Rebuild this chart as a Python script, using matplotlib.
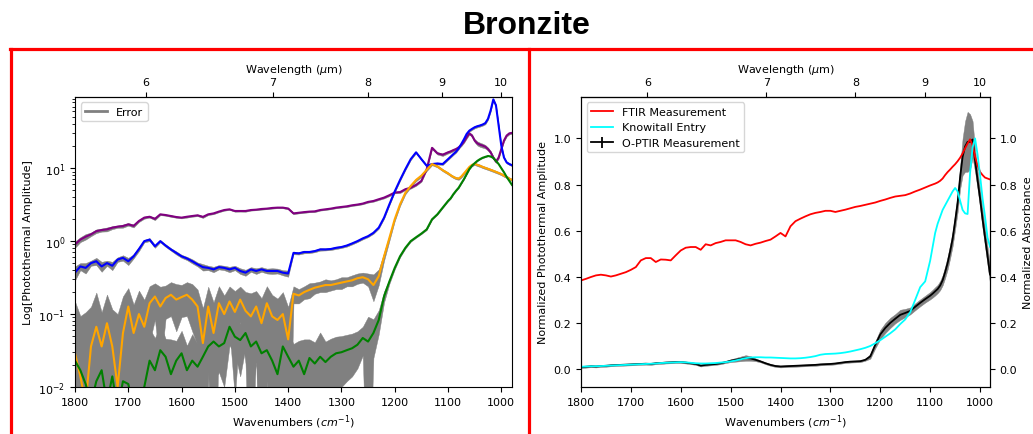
import numpy as np
import matplotlib
matplotlib.use("Agg")
import matplotlib.pyplot as plt
from matplotlib.lines import Line2D

# ---------------- data ----------------
# wavenumber grid (cm^-1): 1800..1100 step 10, then 1095..980 step 5
wn = np.concatenate([np.arange(1800, 1099, -10), np.arange(1095, 979, -5)]).astype(float)

purple = [0.90, 1.05, 1.15, 1.24, 1.37, 1.42, 1.45, 1.53, 1.58, 1.61,
          1.70, 1.62, 1.89, 2.10, 2.16, 2.02, 2.33, 2.28, 2.21, 2.14,
          2.10, 2.16, 2.21, 2.26, 2.15, 2.33, 2.40, 2.54, 2.67, 2.73,
          2.59, 2.59, 2.59, 2.67, 2.70, 2.76, 2.79, 2.85, 2.88, 2.88,
          2.80, 2.40, 2.45, 2.50, 2.54, 2.56, 2.67, 2.73, 2.79, 2.88,
          2.94, 3.00, 3.10, 3.17, 3.27, 3.45, 3.55, 3.75, 3.95, 4.26,
          4.64, 4.70, 5.15, 5.40, 5.90, 6.70, 9.70, 19.0, 16.0, 15.3,
          16.5,
          17.0, 17.7, 18.3, 19.3, 20.8, 23.1, 26.5, 30.0, 28.0, 23.9,
          21.9, 21.0, 20.4, 19.7, 18.3, 16.5, 14.0, 12.3, 14.0, 18.3,
          23.9, 28.0, 30.0, 30.5]
purple_err = [0.09, 0.08, 0.10, 0.07, 0.08, 0.07, 0.09, 0.07, 0.06, 0.08,
              0.07, 0.08, 0.06, 0.07, 0.06, 0.08, 0.06, 0.05, 0.06, 0.05,
              0.05, 0.06, 0.05, 0.06, 0.07, 0.05, 0.06, 0.05, 0.06, 0.05,
              0.06, 0.05, 0.06, 0.05, 0.05, 0.06, 0.05, 0.06, 0.05, 0.06,
              0.07, 0.06, 0.05, 0.06, 0.05, 0.06, 0.05, 0.06, 0.05, 0.06,
              0.06, 0.07, 0.06, 0.07, 0.07, 0.08, 0.08, 0.09, 0.10, 0.11,
              0.12, 0.13, 0.14, 0.15, 0.17, 0.20, 0.30, 0.70, 0.60, 0.60,
              0.60,
              0.62, 0.65, 0.65, 0.70, 0.75, 0.85, 1.00, 1.10, 1.10, 1.20,
              1.40, 1.40, 1.30, 1.10, 0.90, 0.75, 0.60, 0.50, 0.50, 0.60,
              0.75, 0.90, 0.95, 0.95]

blue = [0.37, 0.45, 0.43, 0.50, 0.53, 0.45, 0.50, 0.46, 0.56, 0.59,
        0.53, 0.62, 0.78, 1.00, 1.05, 0.85, 1.00, 0.87, 0.77, 0.69,
        0.62, 0.58, 0.53, 0.48, 0.44, 0.43, 0.41, 0.44, 0.43, 0.41,
        0.43, 0.39, 0.37, 0.41, 0.39, 0.41, 0.39, 0.39, 0.39, 0.37,
        0.36, 0.69, 0.68, 0.71, 0.71, 0.73, 0.77, 0.77, 0.78, 0.81,
        0.83, 0.87, 0.93, 1.00, 1.09, 1.17, 1.30, 1.53, 2.10, 3.20,
        4.80, 6.90, 9.70, 13.3, 16.5, 13.3, 10.8, 11.4, 11.6, 11.4,
        13.3,
        14.4, 15.6, 16.8, 18.7, 21.5, 25.0, 29.5, 32.7, 34.6, 36.4,
        37.6, 38.5, 39.7, 41.5, 47.5, 61.8, 87.7, 72.5, 38.5, 20.4,
        14.0, 12.0, 11.4, 11.0]
blue_err = [0.08, 0.05, 0.07, 0.04, 0.06, 0.07, 0.04, 0.06, 0.04, 0.05,
            0.06, 0.04, 0.05, 0.04, 0.05, 0.04, 0.035, 0.035, 0.03, 0.035,
            0.03, 0.03, 0.035, 0.03, 0.045, 0.03, 0.035, 0.03, 0.03, 0.035,
            0.03, 0.035, 0.035, 0.03, 0.035, 0.03, 0.03, 0.035, 0.03, 0.03,
            0.035, 0.03, 0.025, 0.03, 0.025, 0.025, 0.03, 0.025, 0.025, 0.03,
            0.025, 0.03, 0.03, 0.03, 0.035, 0.035, 0.04, 0.05, 0.07, 0.10,
            0.15, 0.20, 0.28, 0.38, 0.45, 0.38, 0.30, 0.35, 0.35, 0.35,
            0.38,
            0.42, 0.45, 0.50, 0.55, 0.65, 0.80, 0.95, 1.10, 1.20, 1.30,
            1.35, 1.35, 1.40, 1.50, 1.60, 2.00, 2.50, 2.20, 1.30, 0.65,
            0.45, 0.38, 0.35, 0.35]

orange = [0.029, 0.014, 0.006, 0.036, 0.067, 0.036, 0.075, 0.036, 0.010, 0.055,
          0.127, 0.055, 0.100, 0.067, 0.141, 0.174, 0.127, 0.166, 0.184, 0.158,
          0.171, 0.184, 0.158, 0.127, 0.040, 0.127, 0.055, 0.141, 0.100, 0.149,
          0.107, 0.158, 0.111, 0.093, 0.127, 0.075, 0.141, 0.093, 0.083, 0.100,
          0.045, 0.190, 0.180, 0.200, 0.215, 0.230, 0.240, 0.250, 0.250, 0.260,
          0.270, 0.280, 0.290, 0.310, 0.320, 0.300, 0.250, 0.330, 0.620, 1.11,
          2.00, 3.20, 4.60, 5.70, 6.90, 7.90, 9.50, 11.4, 10.6, 9.4,
          8.5,
          8.0, 7.6, 7.3, 7.2, 7.7, 8.5, 9.4, 10.4, 11.1, 11.5,
          11.1, 10.8, 10.4, 10.1, 9.8, 9.5, 9.2, 8.9, 8.6, 8.3,
          7.9, 7.6, 7.2, 6.9]
orange_err = [0.12, 0.08, 0.10, 0.09, 0.13, 0.07, 0.11, 0.08, 0.09, 0.12,
              0.10, 0.08, 0.11, 0.09, 0.10, 0.09, 0.11, 0.08, 0.09, 0.10,
              0.08, 0.09, 0.10, 0.09, 0.08, 0.11, 0.09, 0.10, 0.08, 0.09,
              0.10, 0.08, 0.09, 0.10, 0.08, 0.09, 0.10, 0.09, 0.08, 0.10,
              0.08, 0.05, 0.04, 0.04, 0.05, 0.04, 0.04, 0.05, 0.04, 0.04,
              0.05, 0.04, 0.05, 0.05, 0.05, 0.06, 0.10, 0.08, 0.08, 0.10,
              0.12, 0.16, 0.20, 0.24, 0.28, 0.32, 0.36, 0.40, 0.36, 0.32,
              0.30,
              0.28, 0.27, 0.26, 0.26, 0.28, 0.30, 0.34, 0.38, 0.42, 0.42,
              0.42, 0.40, 0.38, 0.36, 0.35, 0.34, 0.33, 0.32, 0.30, 0.30,
              0.28, 0.27, 0.26, 0.25]

green = [0.023, 0.017, 0.011, 0.006, 0.012, 0.017, 0.006, 0.014, 0.005, 0.012,
         0.011, 0.005, 0.006, 0.010, 0.023, 0.017, 0.032, 0.026, 0.015, 0.023,
         0.029, 0.017, 0.023, 0.019, 0.026, 0.036, 0.042, 0.036, 0.040, 0.067,
         0.049, 0.044, 0.055, 0.036, 0.042, 0.029, 0.032, 0.023, 0.015, 0.036,
         0.026, 0.019, 0.023, 0.015, 0.025, 0.021, 0.026, 0.022, 0.026, 0.029,
         0.030, 0.032, 0.034, 0.038, 0.047, 0.042, 0.055, 0.083, 0.175, 0.280,
         0.430, 0.620, 0.810, 1.00, 1.13, 1.27, 1.45, 1.99, 2.33, 2.88,
         3.55,
         3.87, 4.40, 4.90, 5.40, 6.20, 7.10, 8.30, 9.70, 10.8, 11.7,
         12.6, 13.3, 13.9, 14.3, 14.7, 14.5, 13.8, 12.6, 11.4, 10.0,
         8.8, 7.6, 6.7, 5.9]
green_err = [0.05, 0.04, 0.06, 0.03, 0.05, 0.04, 0.06, 0.03, 0.05, 0.04,
             0.05, 0.03, 0.04, 0.03, 0.04, 0.03, 0.04, 0.02, 0.03, 0.02,
             0.03, 0.02, 0.03, 0.02, 0.03, 0.02, 0.03, 0.02, 0.03, 0.03,
             0.02, 0.03, 0.02, 0.03, 0.02, 0.03, 0.02, 0.03, 0.02, 0.03,
             0.03, 0.02, 0.02, 0.03, 0.02, 0.02, 0.03, 0.02, 0.02, 0.02,
             0.02, 0.02, 0.02, 0.02, 0.02, 0.05, 0.03, 0.03, 0.03, 0.02,
             0.02, 0.02, 0.02, 0.02, 0.02, 0.02, 0.03, 0.03, 0.03, 0.04,
             0.05,
             0.05, 0.06, 0.06, 0.07, 0.07, 0.08, 0.09, 0.10, 0.11, 0.12,
             0.12, 0.13, 0.13, 0.14, 0.14, 0.14, 0.13, 0.12, 0.11, 0.10,
             0.09, 0.08, 0.07, 0.06]

ftir = [0.384, 0.391, 0.399, 0.406, 0.409, 0.406, 0.401, 0.406, 0.413, 0.420,
        0.430, 0.442, 0.471, 0.481, 0.481, 0.464, 0.475, 0.474, 0.471, 0.493,
        0.514, 0.526, 0.529, 0.529, 0.517, 0.541, 0.536, 0.546, 0.551, 0.558,
        0.558, 0.558, 0.551, 0.541, 0.536, 0.543, 0.548, 0.555, 0.561, 0.575,
        0.590, 0.575, 0.619, 0.641, 0.652, 0.662, 0.671, 0.677, 0.681, 0.686,
        0.686, 0.681, 0.686, 0.691, 0.697, 0.703, 0.707, 0.712, 0.717, 0.722,
        0.729, 0.735, 0.742, 0.748, 0.751, 0.754, 0.761, 0.770, 0.778, 0.787,
        0.796,
        0.800, 0.804, 0.809, 0.816, 0.826, 0.841, 0.854, 0.865, 0.877, 0.888,
        0.901, 0.916, 0.935, 0.957, 0.978, 0.996, 0.971, 0.920, 0.884, 0.855,
        0.841, 0.830, 0.826, 0.822]

knowitall = [0.010, 0.011, 0.012, 0.012, 0.013, 0.014, 0.015, 0.016, 0.017, 0.018,
             0.019, 0.020, 0.021, 0.022, 0.023, 0.024, 0.026, 0.027, 0.028, 0.029,
             0.030, 0.029, 0.027, 0.025, 0.024, 0.024, 0.025, 0.026, 0.028, 0.030,
             0.033, 0.037, 0.042, 0.047, 0.050, 0.051, 0.051, 0.050, 0.050, 0.049,
             0.048, 0.047, 0.046, 0.046, 0.047, 0.049, 0.052, 0.056, 0.062, 0.065,
             0.066, 0.067, 0.069, 0.072, 0.076, 0.081, 0.086, 0.092, 0.100, 0.112,
             0.125, 0.140, 0.155, 0.172, 0.195, 0.215, 0.246, 0.300, 0.355, 0.380,
             0.470,
             0.530, 0.590, 0.630, 0.660, 0.690, 0.710, 0.730, 0.750, 0.770, 0.785,
             0.770, 0.730, 0.690, 0.675, 0.672, 0.850, 0.960, 1.000, 0.930, 0.840,
             0.740, 0.660, 0.570, 0.530]

optir = [0.008, 0.010, 0.012, 0.011, 0.013, 0.014, 0.016, 0.017, 0.018, 0.019,
         0.020, 0.021, 0.022, 0.023, 0.022, 0.025, 0.026, 0.028, 0.029, 0.030,
         0.030, 0.028, 0.025, 0.022, 0.015, 0.018, 0.020, 0.022, 0.025, 0.030,
         0.036, 0.040, 0.044, 0.048, 0.046, 0.040, 0.033, 0.025, 0.018, 0.013,
         0.011, 0.012, 0.013, 0.014, 0.015, 0.016, 0.017, 0.018, 0.020, 0.021,
         0.022, 0.024, 0.027, 0.030, 0.032, 0.033, 0.034, 0.040, 0.055, 0.105,
         0.150, 0.178, 0.200, 0.218, 0.235, 0.243, 0.252, 0.270, 0.287, 0.303,
         0.318,
         0.327, 0.337, 0.347, 0.362, 0.385, 0.420, 0.460, 0.510, 0.565, 0.640,
         0.720, 0.830, 0.920, 0.965, 0.985, 0.985, 0.995, 0.905, 0.820, 0.740,
         0.650, 0.570, 0.490, 0.410]
optir_err = [0.004, 0.004, 0.004, 0.004, 0.004, 0.004, 0.004, 0.004, 0.004, 0.004,
             0.004, 0.004, 0.004, 0.004, 0.004, 0.004, 0.004, 0.004, 0.004, 0.004,
             0.004, 0.004, 0.004, 0.004, 0.004, 0.004, 0.004, 0.004, 0.004, 0.004,
             0.006, 0.008, 0.010, 0.012, 0.010, 0.006, 0.004, 0.004, 0.004, 0.004,
             0.004, 0.004, 0.004, 0.004, 0.004, 0.004, 0.004, 0.004, 0.004, 0.004,
             0.004, 0.004, 0.004, 0.004, 0.004, 0.004, 0.004, 0.004, 0.010, 0.015,
             0.020, 0.022, 0.022, 0.020, 0.022, 0.018, 0.015, 0.015, 0.015, 0.015,
             0.016,
             0.017, 0.018, 0.018, 0.020, 0.022, 0.025, 0.028, 0.030, 0.032, 0.035,
             0.040, 0.050, 0.080, 0.110, 0.130, 0.120, 0.080, 0.050, 0.040, 0.040,
             0.040, 0.040, 0.040, 0.040]

top_ticks_um = [6, 7, 8, 9, 10]

# ---------------- figure ----------------
plt.rcParams['font.family'] = ['DejaVu Sans']
FS = 8
fig = plt.figure(figsize=(10.33, 4.35), dpi=100)

def wn2um(x):
    x = np.asarray(x, dtype=float)
    with np.errstate(divide='ignore', invalid='ignore'):
        return 1e4 / x

# left panel
axL = fig.add_axes([0.0726, 0.108, 0.4230, 0.667])
for y, e in [(purple, purple_err), (blue, blue_err), (orange, orange_err), (green, green_err)]:
    y = np.asarray(y); e = np.asarray(e)
    lo = np.clip(y - e, 1e-4, None)
    axL.fill_between(wn, lo, y + e, color='grey', lw=0.3, edgecolor='grey')
for y, c in [(purple, 'purple'), (blue, 'blue'), (orange, 'orange'), (green, 'green')]:
    axL.plot(wn, y, color=c, lw=1.5)
axL.set_yscale('log')
axL.set_ylim(1e-2, 95)
axL.set_xlim(1800, 980)
axL.set_xticks([1800, 1700, 1600, 1500, 1400, 1300, 1200, 1100, 1000])
axL.set_xlabel('Wavenumbers ($cm^{-1}$)', fontsize=FS)
axL.set_ylabel('Log[Photothermal Amplitude]', fontsize=FS)
axL.tick_params(labelsize=FS)
axL.legend(handles=[Line2D([], [], color='grey', lw=2)], labels=['Error'],
           loc='upper left', fontsize=FS)
secL = axL.secondary_xaxis('top', functions=(wn2um, wn2um))
secL.set_xticks(top_ticks_um)
secL.set_xlabel('Wavelength ($\\mu$m)', fontsize=FS)
secL.tick_params(labelsize=FS)

# right panel
axR = fig.add_axes([0.5624, 0.108, 0.3960, 0.667])
axR2 = axR.twinx()
oy = np.asarray(optir); oe = np.asarray(optir_err)
axR.fill_between(wn, oy - oe, oy + oe, color='grey', lw=0.3, edgecolor='grey')
eb = axR.errorbar(wn, oy, yerr=np.zeros_like(oy), color='black', lw=1.3,
                  label='O-PTIR Measurement')
l1, = axR2.plot(wn, ftir, color='red', lw=1.3, label='FTIR Measurement')
l2, = axR2.plot(wn, knowitall, color='cyan', lw=1.3, label='Knowitall Entry')
for a in (axR, axR2):
    a.set_ylim(-0.078, 1.18)
    a.set_yticks([0.0, 0.2, 0.4, 0.6, 0.8, 1.0])
    a.tick_params(labelsize=FS)
axR.set_xlim(1800, 980)
axR.set_xticks([1800, 1700, 1600, 1500, 1400, 1300, 1200, 1100, 1000])
axR.set_xlabel('Wavenumbers ($cm^{-1}$)', fontsize=FS)
axR.set_ylabel('Normalized Photothermal Amplitude', fontsize=FS)
axR2.set_ylabel('Normalized Absorbance', fontsize=FS)
axR2.legend(handles=[l1, l2, eb],
            labels=['FTIR Measurement', 'Knowitall Entry', 'O-PTIR Measurement'],
            loc='upper left', fontsize=FS)
secR = axR.secondary_xaxis('top', functions=(wn2um, wn2um))
secR.set_xticks(top_ticks_um)
secR.set_xlabel('Wavelength ($\\mu$m)', fontsize=FS)
secR.tick_params(labelsize=FS)

# title and red frames
fig.text(0.51, 0.94, 'Bronzite', ha='center', va='center', fontsize=23,
         fontweight='bold', family=['Liberation Sans', 'DejaVu Sans'])
red_lw = 2.3
fig.add_artist(Line2D([10 / 1033, 1.0], [1 - 50 / 435] * 2, color='red', lw=red_lw,
                      transform=fig.transFigure))
fig.add_artist(Line2D([10.5 / 1033] * 2, [0, 1 - 50 / 435], color='red', lw=red_lw,
                      transform=fig.transFigure))
fig.add_artist(Line2D([529 / 1033] * 2, [0, 1 - 50 / 435], color='red', lw=red_lw,
                      transform=fig.transFigure))

fig.savefig('out.png', dpi=100)
